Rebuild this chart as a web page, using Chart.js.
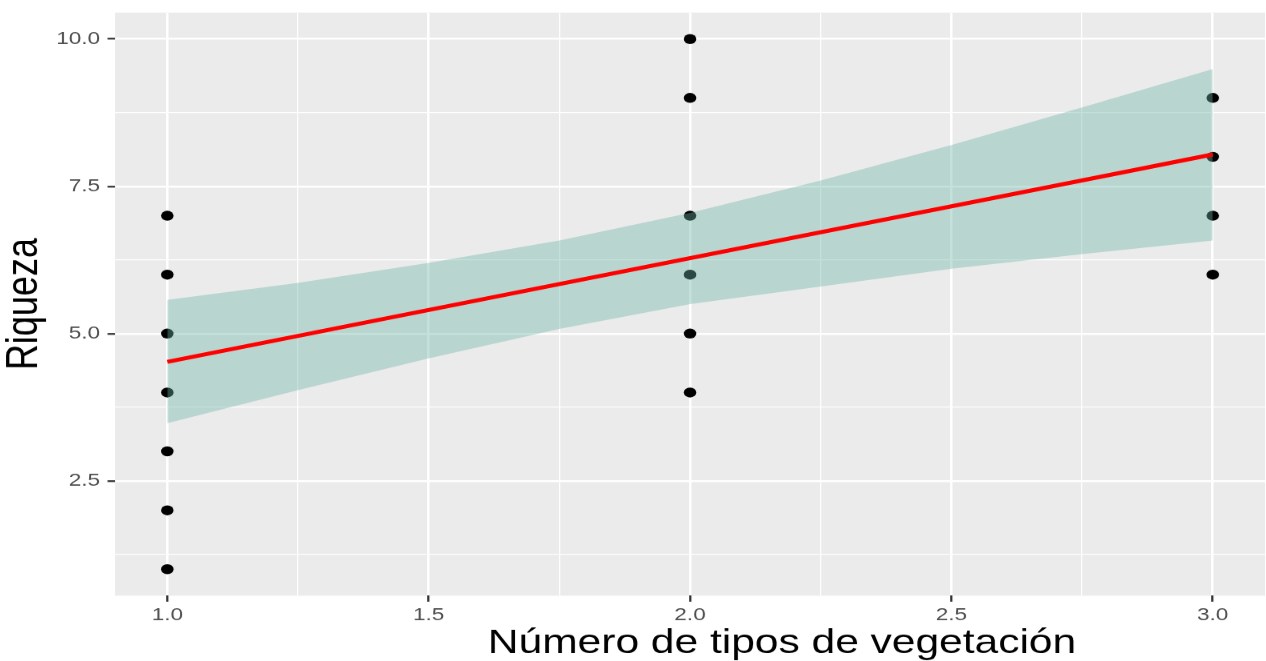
<!DOCTYPE html>
<html>
<head>
<meta charset="utf-8">
<script src="https://cdn.jsdelivr.net/npm/chart.js@4"></script>
<style>
html, body { margin: 0; padding: 0; background: #fff; overflow: hidden; }
/* the plot is laid out narrow and widened, so marks and text come out stretched */
#wrap { width: 1013px; height: 661px; transform: scaleX(1.2498); transform-origin: 0 0; }
</style>
</head>
<body>
<div id="wrap"><canvas id="riqueza" width="1013" height="661"></canvas></div>
<script>
// observations
var tipos   = [1, 1, 1, 1, 1, 1, 1, 2, 2, 2, 2, 2, 2, 3, 3, 3, 3];
var riqueza = [1, 2, 3, 4, 5, 6, 7, 4, 5, 6, 7, 9, 10, 6, 7, 8, 9];

// fitted line and its confidence band
var fitX = [1, 3];
var fitY = [4.52, 8.04];
var bandX     = [1, 1.25, 1.5, 1.75, 2, 2.25, 2.5, 2.75, 3];
var bandUpper = [5.57, 5.86, 6.20, 6.58, 7.05, 7.60, 8.20, 8.84, 9.49];
var bandLower = [3.48, 4.04, 4.58, 5.08, 5.50, 5.80, 6.10, 6.35, 6.58];

// ticks
var xMajor = [1, 1.5, 2, 2.5, 3];
var xMajorLabels = ['1.0', '1.5', '2.0', '2.5', '3.0'];
var xMinor = [1.25, 1.75, 2.25, 2.75];
var yMajor = [2.5, 5, 7.5, 10];
var yMajorLabels = ['2.5', '5.0', '7.5', '10.0'];
var yMinor = [1.25, 3.75, 6.25, 8.75];

var xTitle = 'Número de tipos de vegetación';
var yTitle = 'Riqueza';

Chart.defaults.font.family = '"Liberation Sans", Arial, sans-serif';

var pairs = function(xs, ys){
  var out = [];
  for (var i = 0; i < xs.length; i++) out.push({x: xs[i], y: ys[i]});
  return out;
};

var tickList = function(major, minor){
  return major.concat(minor).sort(function(a, b){ return a - b; })
    .map(function(v){ return {value: v}; });
};

var gridFor = function(major){
  return {
    color: '#FFFFFF',
    lineWidth: function(c){ return major.indexOf(c.tick.value) >= 0 ? 2 : 1; },
    tickColor: function(c){ return major.indexOf(c.tick.value) >= 0 ? '#333333' : 'rgba(0,0,0,0)'; },
    tickWidth: 1.8,
    tickLength: 6,
    drawTicks: true
  };
};

// no extra room for overhanging tick labels, the layout padding decides
var noPadding = function(s){
  s.paddingTop = 0;
  s.paddingBottom = 0;
  s.paddingLeft = 0;
  s.paddingRight = 0;
};

var panelBg = {
  id: 'panelBg',
  beforeDraw: function(chart){
    var a = chart.chartArea, ctx = chart.ctx;
    ctx.save();
    ctx.fillStyle = '#EBEBEB';
    ctx.fillRect(a.left, a.top, a.right - a.left, a.bottom - a.top);
    ctx.restore();
  }
};

// x title sits right of the panel centre
var xTitlePlugin = {
  id: 'xTitle',
  afterDraw: function(chart){
    var a = chart.chartArea, ctx = chart.ctx;
    ctx.save();
    ctx.font = '34px "Liberation Sans", Arial, sans-serif';
    ctx.fillStyle = '#000000';
    ctx.textAlign = 'center';
    ctx.textBaseline = 'alphabetic';
    ctx.fillText(xTitle, a.left + 0.58 * (a.right - a.left), 653);
    ctx.restore();
  }
};

new Chart(document.getElementById('riqueza'), {
  type: 'scatter',
  data: {
    datasets: [{
      data: pairs(tipos, riqueza),
      pointRadius: 5,
      pointHoverRadius: 5,
      pointBackgroundColor: '#000000',
      pointBorderWidth: 0,
      order: 3
    }, {
      data: pairs(bandX, bandLower),
      showLine: true,
      pointRadius: 0,
      borderWidth: 0,
      borderColor: 'rgba(0,0,0,0)',
      fill: false,
      order: 2
    }, {
      data: pairs(bandX, bandUpper),
      showLine: true,
      pointRadius: 0,
      borderWidth: 0,
      borderColor: 'rgba(0,0,0,0)',
      backgroundColor: 'rgba(110,181,168,0.4)',
      fill: '-1',
      order: 1
    }, {
      data: pairs(fitX, fitY),
      showLine: true,
      pointRadius: 0,
      borderWidth: 4,
      borderColor: '#FF0000',
      fill: false,
      order: 0
    }]
  },
  options: {
    responsive: false,
    devicePixelRatio: 1.25,
    animation: false,
    layout: { autoPadding: false, padding: { top: 12.5, right: 1, left: 0, bottom: 0 } },
    plugins: { legend: { display: false }, tooltip: { enabled: false } },
    scales: {
      x: {
        type: 'linear',
        min: 0.9,
        max: 3.1,
        afterBuildTicks: function(s){ s.ticks = tickList(xMajor, xMinor); },
        afterFit: function(s){ s.height = 65.5; noPadding(s); },
        border: { display: false },
        grid: gridFor(xMajor),
        ticks: {
          autoSkip: false,
          maxRotation: 0,
          padding: 3,
          color: '#4D4D4D',
          font: { size: 18 },
          callback: function(v){
            var i = xMajor.indexOf(v);
            return i >= 0 ? xMajorLabels[i] : '';
          }
        }
      },
      y: {
        type: 'linear',
        min: 0.55,
        max: 10.45,
        afterBuildTicks: function(s){ s.ticks = tickList(yMajor, yMinor); },
        afterFit: function(s){ s.width = 92; noPadding(s); },
        border: { display: false },
        grid: gridFor(yMajor),
        title: {
          display: true,
          text: yTitle,
          color: '#000000',
          font: { size: 36, lineHeight: 1 },
          padding: { top: 2, bottom: 0 }
        },
        ticks: {
          autoSkip: false,
          padding: 6,
          color: '#4D4D4D',
          font: { size: 18 },
          callback: function(v){
            var i = yMajor.indexOf(v);
            return i >= 0 ? yMajorLabels[i] : '';
          }
        }
      }
    }
  },
  plugins: [panelBg, xTitlePlugin]
});
</script>
</body>
</html>
